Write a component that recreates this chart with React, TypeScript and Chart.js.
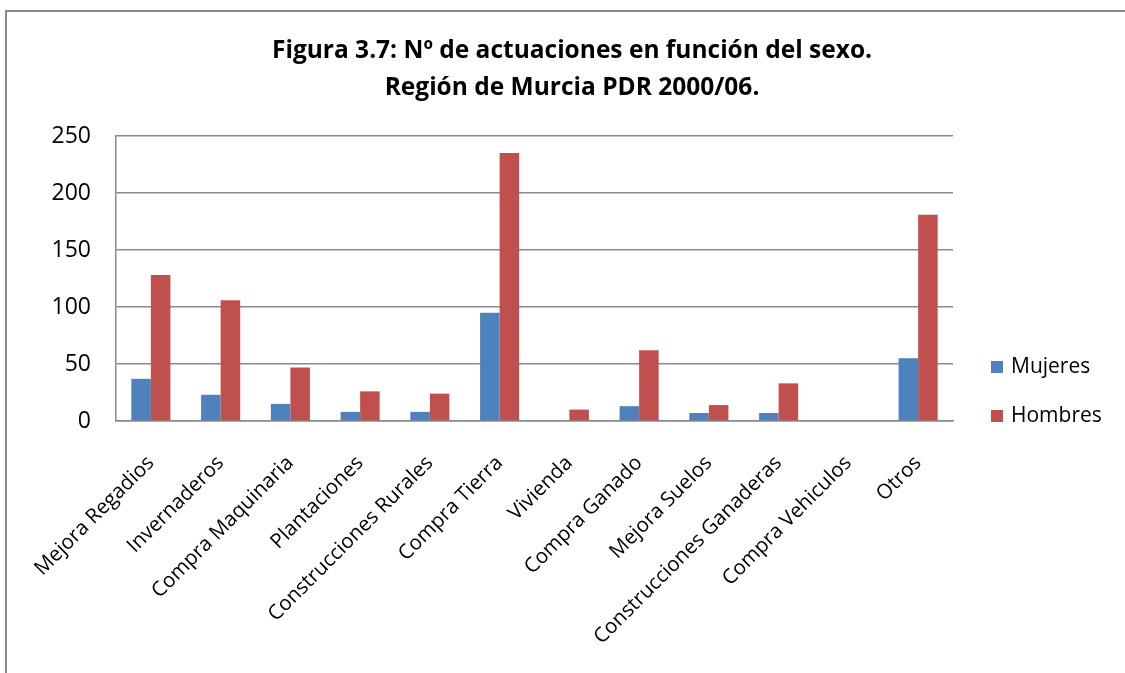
import React, { useEffect, useRef } from "react";
import { Chart, registerables } from "chart.js";

Chart.register(...registerables);

const categories = [
  "Mejora Regadios",
  "Invernaderos",
  "Compra Maquinaria",
  "Plantaciones",
  "Construcciones Rurales",
  "Compra Tierra",
  "Vivienda",
  "Compra Ganado",
  "Mejora Suelos",
  "Construcciones Ganaderas",
  "Compra Vehiculos",
  "Otros",
];
const mujeres = [37, 23, 15, 8, 8, 95, 0, 13, 7, 7, 0, 55];
const hombres = [128, 106, 47, 26, 24, 235, 10, 62, 14, 33, 0, 181];
const yTicks = [0, 50, 100, 150, 200, 250];
const titleLines = [
  "Figura 3.7: Nº de actuaciones en función del sexo.",
  "Región de Murcia PDR 2000/06.",
];
const seriesNames = ["Mujeres", "Hombres"];
const seriesColors = ["#4F81BD", "#C0504D"];

const FONT = "'Open Sans', Lato, sans-serif";
const GRID = "#8a8a8a";

const sideLegend = {
  id: "sideLegend",
  afterDraw(chart: any) {
    const ctx = chart.ctx;
    const area = chart.chartArea;
    ctx.save();
    ctx.font = `21px ${FONT}`;
    ctx.textBaseline = "middle";
    ctx.textAlign = "left";
    const x = area.right + 38;
    const offsets = [-54, -5];
    chart.data.datasets.forEach((ds: any, i: number) => {
      const y = area.bottom + offsets[i];
      ctx.fillStyle = ds.backgroundColor;
      ctx.fillRect(x, y - 6, 12, 12);
      ctx.fillStyle = "#000";
      ctx.fillText(ds.label, x + 20, y);
    });
    ctx.restore();
  },
};

export default function App() {
  const ref = useRef<HTMLCanvasElement | null>(null);

  useEffect(() => {
    if (!ref.current) return;
    const chart = new Chart(ref.current, {
      type: "bar",
      data: {
        labels: categories,
        datasets: [
          {
            label: seriesNames[0],
            data: mujeres,
            backgroundColor: seriesColors[0],
            borderWidth: 0,
            categoryPercentage: 0.56,
            barPercentage: 1,
          },
          {
            label: seriesNames[1],
            data: hombres,
            backgroundColor: seriesColors[1],
            borderWidth: 0,
            categoryPercentage: 0.56,
            barPercentage: 1,
          },
        ],
      },
      options: {
        animation: false,
        responsive: false,
        maintainAspectRatio: false,
        layout: { padding: { left: 19, right: 0, top: 0, bottom: 0 } },
        plugins: {
          legend: { display: false },
          tooltip: { enabled: false },
          title: {
            display: true,
            text: titleLines,
            color: "#000",
            font: { family: FONT, size: 24.5, weight: "bold", lineHeight: 37 / 24.5 },
            padding: { top: 33, bottom: 29 },
          },
        },
        scales: {
          x: {
            grid: { display: false, drawTicks: false },
            border: { display: true, color: GRID, width: 1.5 },
            ticks: {
              color: "#000",
              font: { family: FONT, size: 20.5 },
              maxRotation: 45,
              minRotation: 45,
              autoSkip: false,
              padding: 30,
            },
            afterFit: (s: any) => {
              s.height = 673 - 421;
            },
          },
          y: {
            min: 0,
            max: 250,
            afterBuildTicks: (s: any) => {
              s.ticks = yTicks.map((v) => ({ value: v }));
            },
            grid: { color: GRID, lineWidth: 1.5, drawTicks: false },
            border: { display: true, color: GRID, width: 1.5 },
            ticks: {
              color: "#000",
              font: { family: FONT, size: 23 },
              padding: 25,
            },
            afterFit: (s: any) => {
              s.width = 116 - 19;
            },
          },
          legendSpace: {
            type: "linear",
            position: "right",
            display: true,
            grid: { display: false, drawTicks: false },
            border: { display: false },
            ticks: { display: false },
            afterFit: (s: any) => {
              s.width = 1125 - 953;
            },
          },
        },
      },
      plugins: [sideLegend],
    });
    return () => chart.destroy();
  }, []);

  return (
    <div
      style={{
        position: "absolute",
        left: 0,
        top: 0,
        width: 1125,
        height: 673,
        background: "#fff",
        overflow: "hidden",
      }}
    >
      <div
        style={{
          position: "absolute",
          left: 5,
          top: 10,
          width: 2000,
          height: 2000,
          border: "2px solid #888",
          boxSizing: "border-box",
        }}
      />
      <canvas
        ref={ref}
        width={1125}
        height={673}
        style={{ position: "absolute", left: 0, top: 0, width: 1125, height: 673 }}
      />
    </div>
  );
}
